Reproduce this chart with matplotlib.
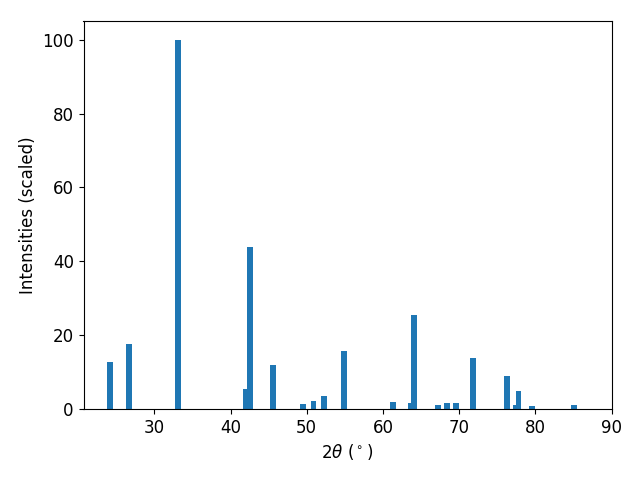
import numpy as np
import matplotlib.pyplot as plt

# posiciones 2theta de los picos y sus intensidades
two_theta = [24.2, 26.7, 33.1, 42.05, 42.57, 45.6, 49.5, 50.9, 52.3, 54.9,
             61.35, 63.7, 64.1, 67.25, 68.4, 69.6, 71.85, 76.3, 77.4, 77.8,
             79.6, 85.1]
intensidad = [12.8, 17.7, 100.0, 5.4, 43.9, 11.9, 1.4, 2.2, 3.5, 15.7,
              1.9, 1.6, 25.5, 1.1, 1.6, 1.6, 13.8, 8.9, 1.1, 4.9,
              0.8, 1.1]

plt.rcParams['font.size'] = 12
fig, ax = plt.subplots(figsize=(6.4, 4.8), dpi=100)
ax.bar(two_theta, intensidad, width=0.75, color='#1f77b4')
ax.set_xlim(20.7, 90)
ax.set_xlabel(r'2$\theta$ ($^\circ$)')
ax.set_ylabel('Intensities (scaled)')
fig.subplots_adjust(left=83.5/640, right=611.5/640, bottom=71/480, top=1 - 21.3/480)
plt.savefig('out.png')
